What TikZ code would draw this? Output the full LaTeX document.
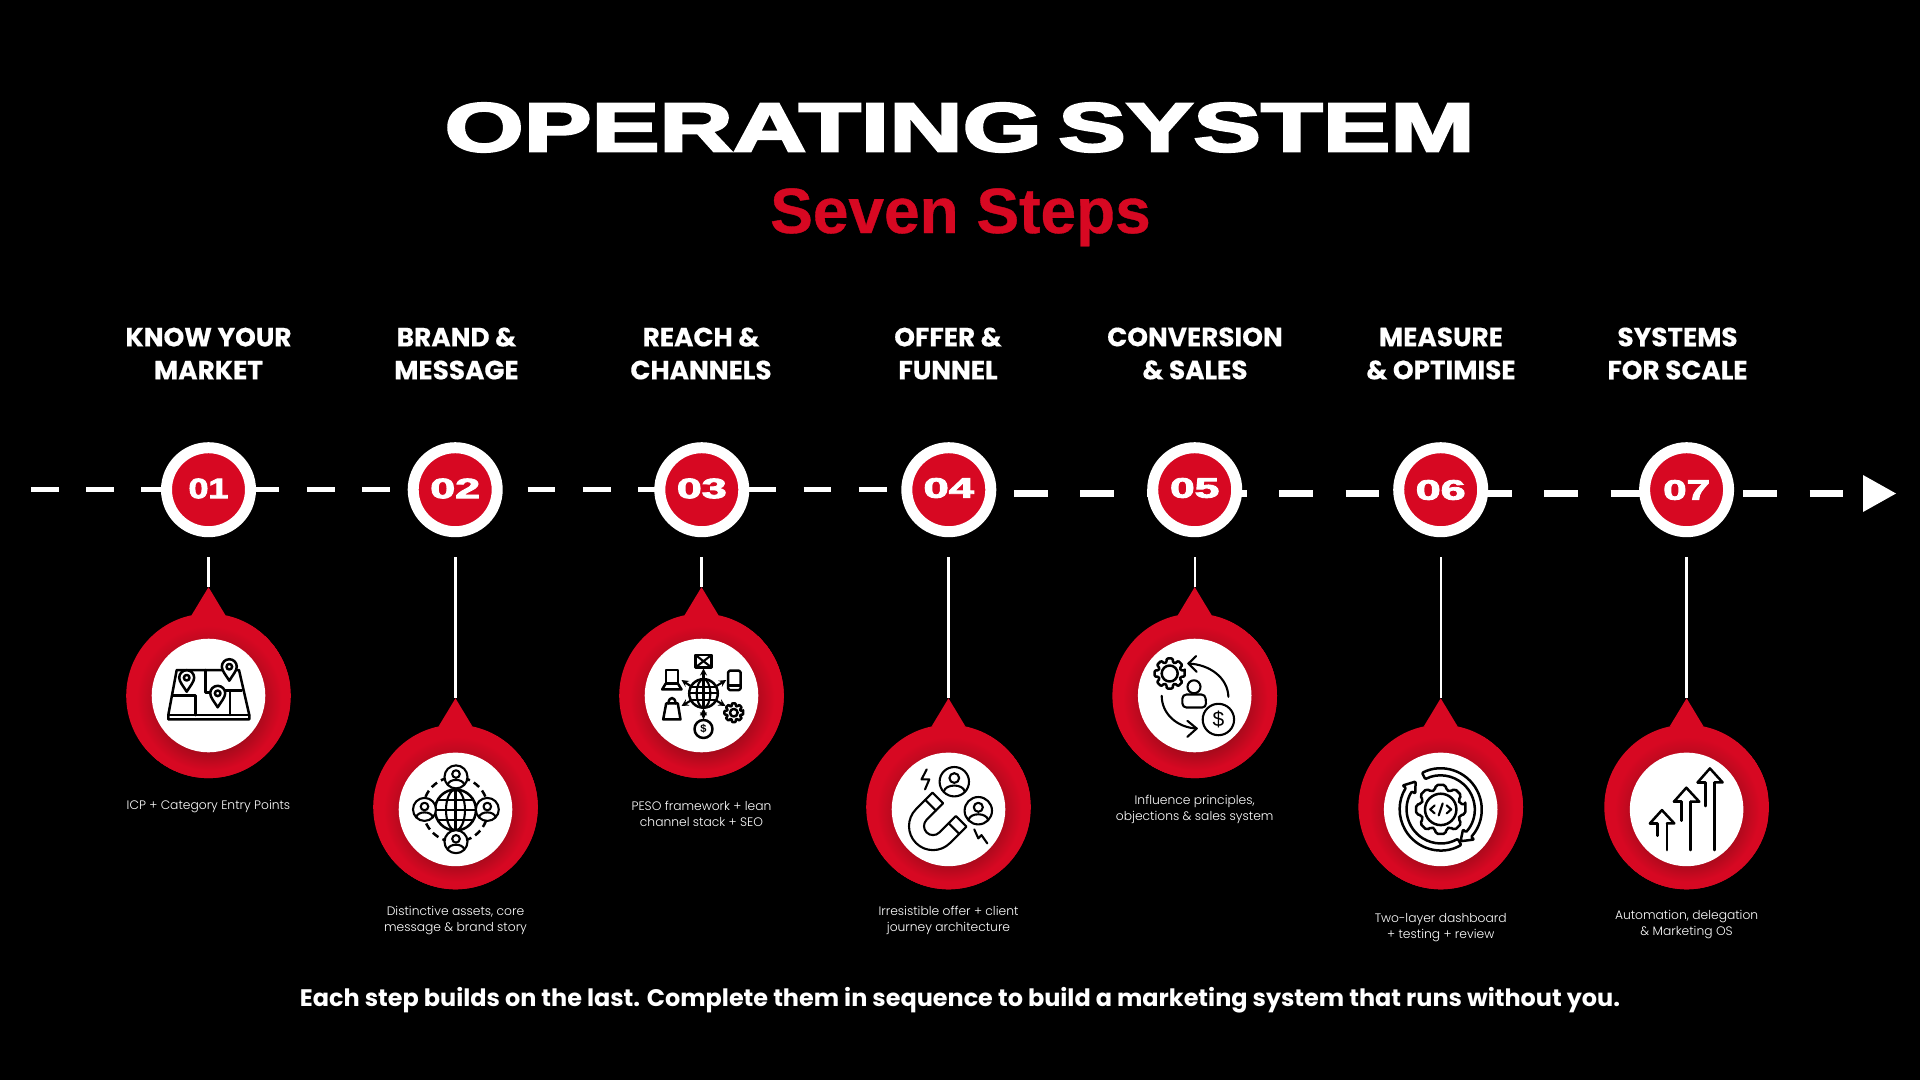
\documentclass[tikz,border=0pt]{standalone}
\usepackage{fontspec}
\usepackage{graphicx}
\setmainfont{Poppins}
\newfontfamily\blackfont[BoldFeatures={FakeBold=3}]{Liberation Sans}
\newfontfamily\subfont[BoldFeatures={FakeBold=.6}]{Liberation Sans}
\newfontfamily\plainsans{Liberation Sans}
\newfontfamily\headfont[BoldFeatures={FakeBold=.4}]{Poppins}
\newfontfamily\footfont{Poppins}
\newfontfamily\descfont{Poppins Light}
\definecolor{brandred}{HTML}{D70822}
\definecolor{branddark}{HTML}{A90A1C}
\pgfdeclareradialshading{pinshade}{\pgfpoint{1.5bp}{-6bp}}{%
  color(0bp)=(branddark); color(15bp)=(branddark); color(22bp)=(brandred); color(25bp)=(brandred)}
\tikzset{
  dashA/.style={white,line width=5.5pt,dash pattern=on 27.7pt off 27.5pt},
  dashB/.style={white,line width=6.5pt,dash pattern=on 33.8pt off 32.5pt},
  stem/.style={white,line width=2.4pt},
  ringc/.style={circle,draw=white,fill=brandred,line width=11pt,minimum size=84pt,inner sep=0pt,outer sep=0pt},
  heading/.style={white,font=\headfont\bfseries\fontsize{26.3}{33}\selectfont,align=center,inner sep=0pt},
  desc/.style={white,font=\descfont\fontsize{12.3}{16}\selectfont,align=center,inner sep=0pt},
  ink/.style={black,line width=2.5pt,line join=round,line cap=round},
  thin ink/.style={black,line width=2.1pt,line join=round,line cap=round},
}
\newcommand{\pinshape}[4]{% name, x, white y, red y
  \coordinate (#1) at (#2,#4-108.7);
  \fill[brandred] (#1) -- (#2+17,#4-80.5) -- (#2-17,#4-80.5) -- cycle;
  \fill[brandred] (#2,#4) circle[radius=82.3];
  \path[shading=pinshade] (#2,#4) circle[radius=82.3];
  \fill[white] (#2,#3) circle[radius=56.8];
}
\newcommand{\numlabel}[2]{\scalebox{#2}[1]{\blackfont\bfseries\fontsize{28}{28}\selectfont #1}}
\newcommand{\mappin}[2]{%
  \filldraw[ink,fill=white] (#1,#2+14) .. controls (#1-3,#2+9) and (#1-7.5,#2+4) .. (#1-7.5,#2)
    arc[start angle=180,end angle=360,radius=7.5]
    .. controls (#1+7.5,#2+4) and (#1+3,#2+9) .. cycle;
  \draw[ink] (#1,#2) circle[radius=2.8];
}
\newcommand{\personc}[3]{%
  \begin{scope}[shift={(#1,#2)},scale=#3]
    \filldraw[thin ink,fill=white] (0,0) circle[radius=1];
    \draw[thin ink] (0,-.25) circle[radius=.33];
    \draw[thin ink] (-.72,.68) .. controls (-.6,.12) and (.6,.12) .. (.72,.68);
  \end{scope}
}
\newcommand{\gearicon}[6]{% x,y,R,r0,inner,corner
  \begin{scope}[shift={(#1,#2)}]
    \draw[ink,rounded corners=#6pt] (-11:#3)
      \foreach \a in {0,45,...,315} { -- ({\a-11}:#3) -- ({\a+11}:#3) -- ({\a+17}:#4) -- ({\a+28}:#4) } -- cycle;
    \draw[ink] (0,0) circle[radius=#5];
  \end{scope}
}
\newcommand{\ringarrow}[2]{% start angle, end angle
  \draw[ink,rounded corners=1pt] (#1:41) arc[start angle=#1,end angle=#2,radius=41]
    -- (#2:45) -- ({#2+16}:37.5) -- (#2:30) -- (#2:34)
    arc[start angle=#2,end angle=#1,radius=34] -- cycle;
}
\newcommand{\uparrowicon}[9]{% tipx tipy wingL stemL stemR wingR wingY shortEnd longEnd
  \draw[ink] (#3,#7) -- (#1,#2) -- (#6,#7) -- (#5,#7);
  \draw[ink] (#3,#7) -- (#4,#7) -- (#4,#8);
  \draw[ink] (#5,#7) -- (#5,#9);
}
\begin{document}
\begin{tikzpicture}[x=1pt,y=-1pt]
\useasboundingbox (0,0) rectangle (1920,1080);
\fill[black] (0,0) rectangle (1920,1080);

% titles
\node[inner sep=0pt,white] (title1) at (743.2,127.5) {\resizebox{597pt}{48.4pt}{\blackfont\bfseries OPERATING}};
\node[inner sep=0pt,white] (title2) at (1266.5,127.5) {\resizebox{416pt}{48.4pt}{\blackfont\bfseries SYSTEM}};
\node[inner sep=0pt,text=brandred,anchor=base] (subtitle) at (960.5,233) {\subfont\bfseries\fontsize{64}{64}\selectfont Seven Steps};

% headings
\node[heading] (h1) at (208.5,353.5) {KNOW YOUR\\MARKET};
\node[heading] (h2) at (456.5,353.5) {BRAND \&\\MESSAGE};
\node[heading] (h3) at (701,353.5) {REACH \&\\CHANNELS};
\node[heading] (h4) at (948,353.5) {OFFER \&\\FUNNEL};
\node[heading] (h5) at (1195,353.5) {CONVERSION\\\& SALES};
\node[heading] (h6) at (1441,353.5) {MEASURE\\\& OPTIMISE};
\node[heading] (h7) at (1677.5,353.5) {SYSTEMS\\FOR SCALE};

% timeline
\coordinate (dA0) at (30.8,489.7);
\coordinate (dA1) at (941,489.7);
\coordinate (dB0) at (1014,493.3);
\coordinate (dB1) at (1847,493.3);
\draw[dashA] (dA0) -- (dA1);
\draw[dashB] (dB0) -- (dB1);
\coordinate (arrowhead) at (1863,493.5);
\fill[white] (arrowhead) ++(0,-18.5) -- ++(33,18.5) -- ++(-33,18.5) -- cycle;

% number circles
\node[ringc] (n1) at (208.5,489.7) {};
\node[ringc] (n2) at (455.2,489.7) {};
\node[ringc] (n3) at (701.8,489.7) {};
\node[ringc] (n4) at (948.8,489.7) {};
\node[ringc] (n5) at (1194.7,489.7) {};
\node[ringc] (n6) at (1440.7,489.7) {};
\node[ringc] (n7) at (1686.6,489.7) {};
\node[white,inner sep=0pt] (l1) at (208.5,488.5) {\numlabel{01}{1.28}};
\node[white,inner sep=0pt] (l2) at (455.2,488.5) {\numlabel{02}{1.6}};
\node[white,inner sep=0pt] (l3) at (701.8,488.5) {\numlabel{03}{1.6}};
\node[white,inner sep=0pt] (l4) at (948.8,488) {\numlabel{04}{1.62}};
\node[white,inner sep=0pt] (l5) at (1194.7,488) {\numlabel{05}{1.58}};
\node[white,inner sep=0pt] (l6) at (1440.7,490) {\numlabel{06}{1.6}};
\node[white,inner sep=0pt] (l7) at (1686.6,490) {\numlabel{07}{1.5}};

% stems
\foreach \i/\x in {1/208.5,2/455.5,3/701.5,4/948.5,5/1194.7,6/1440.7,7/1686.6}
  \coordinate (s\i) at (\x,557.3);

% pins
\pinshape{t1}{208.5}{695.5}{695.8}
\pinshape{t2}{455.5}{809.4}{807}
\pinshape{t3}{701.5}{695.5}{695.8}
\pinshape{t4}{948.5}{809.4}{807}
\pinshape{t5}{1194.7}{695.5}{695.8}
\pinshape{t6}{1440.7}{809.4}{807}
\pinshape{t7}{1686.6}{809.4}{807}
\foreach \i in {1,...,7} \draw[stem] (s\i) -- (t\i);

% icon 1: map
\begin{scope}[shift={(208.5,695.5)}]
  \draw[ink] (-31.8,-25.5) -- (30.5,-25.5) -- (40.8,19.5) -- (40.8,23.8) -- (-40.2,23.8) -- (-40.2,19.5) -- cycle;
  \draw[ink] (-40.2,19.5) -- (40.8,19.5);
  \draw[ink] (-2.8,-25.5) -- (-2.8,-2.8) -- (3.2,-2.8);
  \draw[ink] (14.8,-4.8) -- (33.2,-4.8);
  \draw[ink] (21.5,-4.8) -- (21.5,19.5);
  \draw[ink] (-36.2,.2) -- (-12.8,.2) -- (-12.8,19.5);
  \mappin{-21.8}{-17.8}
  \mappin{20.8}{-28.8}
  \mappin{9.2}{-2.2}
\end{scope}

% icon 2: people round a globe
\begin{scope}[shift={(455.5,809.4)}]
  \draw[ink,dash pattern=on 7pt off 4.5pt,line cap=butt] (0,0) circle[radius=32.5];
  \filldraw[ink,fill=white] (0,.6) circle[radius=20.5];
  \draw[thin ink] (0,.6) ellipse[x radius=9.5,y radius=20.5];
  \draw[thin ink] (0,-19.9) -- (0,21.1);
  \draw[thin ink] (-20.5,.6) -- (20.5,.6);
  \draw[thin ink] (-17.5,-9) -- (17.5,-9);
  \draw[thin ink] (-17.5,10.2) -- (17.5,10.2);
  \personc{.5}{-32.5}{11.5}
  \personc{-31}{0}{11.5}
  \personc{31.8}{0}{11.5}
  \personc{.5}{32.3}{11.5}
\end{scope}

% icon 3: channels
\begin{scope}[shift={(701.5,695.7)}]
  \draw[ink] (2,-2.3) circle[radius=14.3];
  \draw[thin ink] (2,-2.3) ellipse[x radius=6.8,y radius=14.3];
  \draw[thin ink] (2,-16.6) -- (2,12);
  \draw[thin ink] (-12.3,-2.3) -- (16.3,-2.3);
  \draw[thin ink] (-10,-8.5) -- (14,-8.5);
  \draw[thin ink] (-10,3.9) -- (14,3.9);
  \draw[ink] (-6,-40.7) rectangle (10,-28.3);
  \draw[thin ink] (-6,-40.7) -- (2,-34.5) -- (10,-40.7);
  \draw[thin ink] (-6,-28.3) -- (2,-34.5) -- (10,-28.3);
  \draw[ink] (-35.7,-12.3) -- (-35.7,-25.7) -- (-23.7,-25.7) -- (-23.7,-12.3) -- cycle;
  \draw[ink] (-35.7,-12.3) -- (-39.3,-6.3) -- (-20,-6.3) -- (-23.7,-12.3);
  \draw[ink,rounded corners=1.5pt] (26.7,-25) rectangle (39,-5.7);
  \draw[ink] (26.7,-10) -- (39,-10);
  \draw[ink] (-35.3,7.7) -- (-23.7,7.7) -- (-21,23.7) -- (-38.3,23.7) -- cycle;
  \draw[ink] (-33,7.7) .. controls (-33,.5) and (-26,.5) .. (-26,7.7);
  \gearicon{32.3}{17}{9.5}{7}{3.8}{.6}
  \draw[ink] (2,33.3) circle[radius=9];
  \node[inner sep=0pt] (coin3) at (2,33.3) {\plainsans\bfseries\fontsize{11}{11}\selectfont\$};
  \draw[thin ink,-stealth] (2,-17.3) -- (2,-27.3);
  \draw[thin ink,-stealth] (-11,-9.7) -- (-20,-15.7);
  \draw[thin ink,-stealth] (15,-9.7) -- (24.7,-15.7);
  \draw[thin ink,-stealth] (-11,5) -- (-20,10.3);
  \draw[thin ink,-stealth] (15,5) -- (24,10.3);
  \draw[thin ink,stealth-stealth] (2,12.7) -- (2,23.7);
\end{scope}

% icon 4: magnet
\begin{scope}[shift={(948.5,809.4)}]
  \draw[thin ink] (-21.8,-40) -- (-27,-30) -- (-19.2,-30) -- (-23.5,-20);
  \draw[thin ink] (25.8,20) -- (29.8,29) -- (33,25.7) -- (38.8,34);
  \personc{5.8}{-27.7}{14.7}
  \personc{29.8}{1.3}{13.7}
  \begin{scope}[shift={(-15.5,16.7)},rotate=45]
    \draw[thin ink] (23.3,-24) -- (0,-24) arc[start angle=-90,end angle=-270,radius=24]
      -- (23.3,24) -- (23.3,9) -- (0,9) arc[start angle=90,end angle=270,radius=9]
      -- (23.3,-9) -- cycle;
    \draw[thin ink] (13,-24) -- (13,-9);
    \draw[thin ink] (13,9) -- (13,24);
  \end{scope}
\end{scope}

% icon 5: conversion cycle
\begin{scope}[shift={(1194.7,695.5)}]
  \gearicon{-25}{-22}{15.3}{11.5}{8}{1}
  \draw[thin ink] (-.7,-8.7) circle[radius=6.5];
  \draw[thin ink,rounded corners=4pt] (-12.3,12) -- (-12.3,-1) -- (10.7,-1) -- (11.5,12) -- cycle;
  \filldraw[thin ink,fill=white] (23.7,24) circle[radius=15.7];
  \node[inner sep=0pt] (coin5) at (23.7,24) {\plainsans\fontsize{21}{21}\selectfont\$};
  \draw[thin ink] (33.7,1.3) .. controls (33,-18) and (15,-31) .. (-6.3,-32);
  \draw[thin ink] (1.5,-39.5) -- (-6.3,-32) -- (2,-23.7);
  \draw[thin ink] (-33,.3) .. controls (-33,18) and (-18,32) .. (2,33);
  \draw[thin ink] (-7.3,25.3) -- (2,33) -- (-7.3,41.3);
\end{scope}

% icon 6: gear and ring arrows
\begin{scope}[shift={(1440.7,809.4)}]
  \ringarrow{243}{402}
  \ringarrow{60}{212}
  \gearicon{0}{0}{25}{20}{15.7}{2}
  \draw[thin ink] (-6,-4) -- (-10.5,0) -- (-6,4);
  \draw[thin ink] (2,-6) -- (-2,6);
  \draw[thin ink] (6,-4) -- (10.5,0) -- (6,4);
\end{scope}

% icon 7: rising arrows
\begin{scope}[shift={(1686.6,809.4)}]
  \uparrowicon{-24.7}{.7}{-36.7}{-29}{-19.7}{-12.3}{14}{26.3}{40.7}
  \uparrowicon{-.3}{-21.7}{-12.7}{-5}{4}{12.7}{-7.7}{11.3}{40.7}
  \uparrowicon{23.3}{-41}{11}{19}{28}{36}{-27}{-3.3}{40.7}
\end{scope}

% descriptions
\node[desc] (d1) at (208.5,806.5) {ICP + Category Entry Points};
\node[desc] (d2) at (455.5,920.5) {Distinctive assets, core\\message \& brand story};
\node[desc] (d3) at (701.5,814) {PESO framework + lean\\channel stack + SEO};
\node[desc] (d4) at (948.5,920.5) {Irresistible offer + client\\journey architecture};
\node[desc] (d5) at (1194.7,809.5) {Influence principles,\\objections \& sales system};
\node[desc] (d6) at (1440.7,927.5) {Two-layer dashboard\\+ testing + review};
\node[desc] (d7) at (1686.6,925) {Automation, delegation\\\& Marketing OS};

% closing line
\node[white,inner sep=0pt,anchor=base] (foot) at (960,1006) {\resizebox{1320pt}{!}{\footfont\bfseries\fontsize{24}{24}\selectfont Each step builds on the last. Complete them in sequence to build a marketing system that runs without you.}};
\end{tikzpicture}
\end{document}
